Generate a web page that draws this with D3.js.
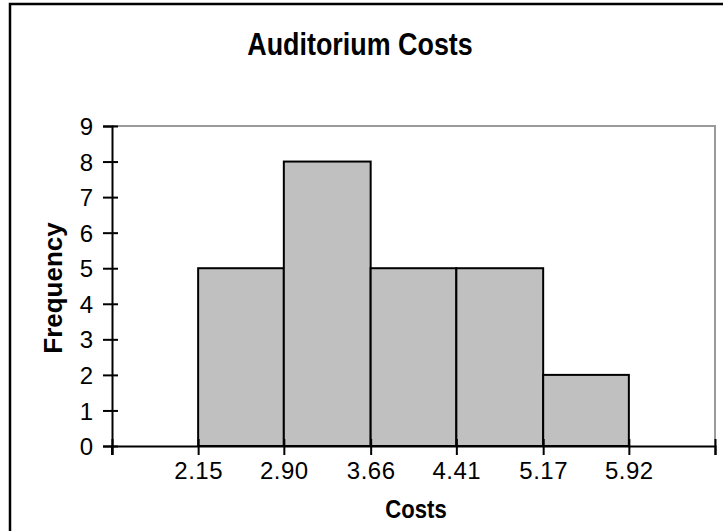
<!DOCTYPE html>
<html>
<head>
<meta charset="utf-8">
<script src="https://cdn.jsdelivr.net/npm/d3@7"></script>
<style>
    body { margin: 0; background: #fff; }
    svg text { font-family: "Liberation Sans", Arial, sans-serif; fill: #000; }
</style>
</head>
<body>
<svg id="chart" width="723" height="531"></svg>
<script>
// histogram data
const binEdges = [2.15, 2.90, 3.66, 4.41, 5.17, 5.92];
const frequencies = [5, 8, 5, 5, 2];
const yTicks = [0, 1, 2, 3, 4, 5, 6, 7, 8, 9];
const chartTitle = "Auditorium Costs";
const xTitle = "Costs";
const yTitle = "Frequency";

const svg = d3.select("#chart");
const margin = { left: 112, right: 8, top: 126, bottom: 85 };
const width = 723 - margin.left - margin.right;
const height = 531 - margin.top - margin.bottom;

// one empty bin width on each side, like the spreadsheet chart
const binWidth = (binEdges[binEdges.length - 1] - binEdges[0]) / (binEdges.length - 1);
const x = d3.scaleLinear()
    .domain([binEdges[0] - binWidth, binEdges[binEdges.length - 1] + binWidth])
    .range([0, width]);
const y = d3.scaleLinear().domain([0, 9]).range([height, 0]);

// outer frame
svg.append("rect")
    .attr("x", 10).attr("y", 4)
    .attr("width", 740).attr("height", 560)
    .attr("fill", "none")
    .attr("stroke", "#000")
    .attr("stroke-width", 2.5);

// title (condensed like the original)
svg.append("text")
    .attr("transform", "translate(360,55) scale(0.84,1)")
    .attr("text-anchor", "middle")
    .style("font-size", "32px")
    .style("font-weight", "bold")
    .text(chartTitle);

const g = svg.append("g").attr("transform", `translate(${margin.left},${margin.top})`);

// plot area border (top and right)
g.append("path")
    .attr("d", `M0,0H${width}V${height}`)
    .attr("fill", "none")
    .attr("stroke", "#9a9a9a")
    .attr("stroke-width", 2);

// bars
const bins = frequencies.map((f, i) => ({ x0: binEdges[i], x1: binEdges[i + 1], f: f }));
g.selectAll("rect.bar")
    .data(bins)
    .enter()
    .append("rect")
    .attr("class", "bar")
    .attr("x", d => x(d.x0))
    .attr("y", d => y(d.f))
    .attr("width", d => x(d.x1) - x(d.x0))
    .attr("height", d => y(0) - y(d.f))
    .attr("fill", "#c0c0c0")
    .attr("stroke", "#000")
    .attr("stroke-width", 2);

// y axis
const yAxis = g.append("g")
    .call(d3.axisLeft(y).tickValues(yTicks).tickSizeOuter(0).tickSize(9));
yAxis.select(".domain").attr("stroke", "#000").attr("stroke-width", 2);
yAxis.selectAll(".tick line").attr("x1", 6).attr("stroke-width", 2);
yAxis.selectAll(".tick text")
    .attr("x", -19)
    .attr("dy", "0.36em")
    .style("font-size", "24px");

// x axis: ticks at every bin edge plus the plot ends, labels only on edges
const xTickVals = [x.domain()[0]].concat(binEdges, [x.domain()[1]]);
const xAxis = g.append("g")
    .attr("transform", `translate(0,${height})`)
    .call(d3.axisBottom(x)
        .tickValues(xTickVals)
        .tickSizeOuter(0)
        .tickSize(9)
        .tickFormat(d => binEdges.includes(d) ? d3.format(".2f")(d) : ""));
xAxis.select(".domain").attr("stroke", "#000").attr("stroke-width", 2);
xAxis.selectAll(".tick line").attr("y1", -7).attr("stroke-width", 2);
xAxis.selectAll(".tick text")
    .attr("y", 33)
    .attr("dy", 0)
    .style("font-size", "24px")
    .style("letter-spacing", "0.5px");

// extend y axis down to the x tick length
g.append("line")
    .attr("x1", 0).attr("x2", 0)
    .attr("y1", height).attr("y2", height + 9)
    .attr("stroke", "#000").attr("stroke-width", 2);

// axis titles
svg.append("text")
    .attr("transform", "translate(416,518) scale(0.85,1)")
    .attr("text-anchor", "middle")
    .style("font-size", "26px")
    .style("font-weight", "bold")
    .text(xTitle);

svg.append("text")
    .attr("transform", "translate(62,288) rotate(-90)")
    .attr("text-anchor", "middle")
    .style("font-size", "26px")
    .style("font-weight", "bold")
    .text(yTitle);
</script>
</body>
</html>
